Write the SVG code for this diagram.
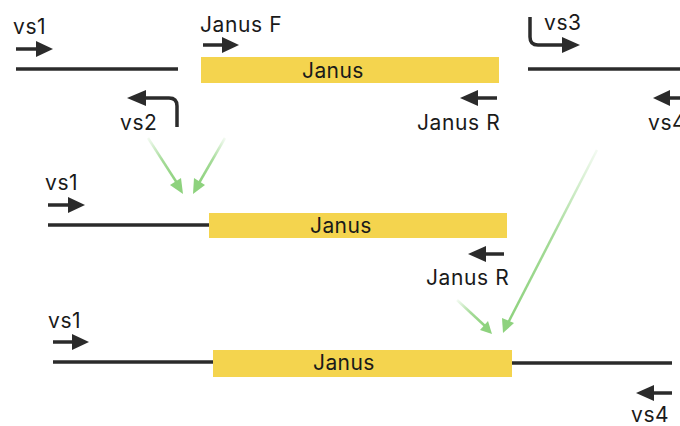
<svg xmlns="http://www.w3.org/2000/svg" width="680" height="426" viewBox="0 0 680 426">
  <style>
    text { font-family: Inter, Roboto, "Liberation Sans", sans-serif; font-size: 21px; letter-spacing: 0.6px; fill: #1a1a1a; }
    .label-bar { font-size: 21px; letter-spacing: 0.4px; }
    .dna { stroke: #2b2b2b; stroke-width: 3.5; fill: none; }
    .gene { fill: #f4d44e; }
    .primer { stroke: #2b2b2b; stroke-width: 3.5; fill: none; }
    .head { fill: #2b2b2b; }
    .flow { stroke-width: 2.5; fill: none; }
    .flowhead { fill: #8ed27e; }
  </style>
  <defs>
    <linearGradient id="fadeL" gradientUnits="objectBoundingBox" x1="0" y1="0" x2="1" y2="1">
      <stop offset="0" stop-color="#8ed27e" stop-opacity="0.1"/>
      <stop offset="0.5" stop-color="#8ed27e" stop-opacity="0.8"/>
      <stop offset="1" stop-color="#8ed27e"/>
    </linearGradient>
    <linearGradient id="fadeR" gradientUnits="objectBoundingBox" x1="1" y1="0" x2="0" y2="1">
      <stop offset="0" stop-color="#8ed27e" stop-opacity="0.1"/>
      <stop offset="0.5" stop-color="#8ed27e" stop-opacity="0.8"/>
      <stop offset="1" stop-color="#8ed27e"/>
    </linearGradient>
  </defs>

  <!-- Row 1: original locus -->
  <g id="row1">
    <line class="dna" x1="16" y1="69" x2="178" y2="69"/>
    <rect class="gene" x="201" y="57" width="298" height="26"/>
    <text class="label-bar" x="302" y="78">Janus</text>
    <line class="dna" x1="528" y1="69" x2="680" y2="69"/>
  </g>
  <g id="vs1-top">
    <text x="13" y="34">vs1</text>
    <line class="primer" x1="16" y1="49" x2="38" y2="49"/>
    <polygon class="head" points="36,41 53,49 36,57"/>
  </g>
  <g id="janusF">
    <text x="200" y="32">Janus F</text>
    <line class="primer" x1="203" y1="45" x2="224" y2="45"/>
    <polygon class="head" points="222,37 239,45 222,53"/>
  </g>
  <g id="vs2">
    <path class="primer" d="M177,127 V106 Q177,98 169,98 H144"/>
    <polygon class="head" points="146,90 127,98 146,106"/>
    <text x="120" y="130">vs2</text>
  </g>
  <g id="janusR-top">
    <line class="primer" x1="497" y1="98" x2="476" y2="98"/>
    <polygon class="head" points="478,90 460,98 478,106"/>
    <text x="417" y="130">Janus R</text>
  </g>
  <g id="vs3">
    <path class="primer" d="M530,17 V37 Q530,45 538,45 H564"/>
    <polygon class="head" points="562,37 580,45 562,53"/>
    <text x="544" y="30">vs3</text>
  </g>
  <g id="vs4-top">
    <line class="primer" x1="682" y1="98" x2="668" y2="98"/>
    <polygon class="head" points="670,90 653,98 670,106"/>
    <text x="648" y="130">vs4</text>
  </g>

  <!-- Row 2: left junction product -->
  <g id="row2">
    <line class="dna" x1="48" y1="225" x2="209" y2="225"/>
    <rect class="gene" x="209" y="213" width="298" height="25"/>
    <text class="label-bar" x="310" y="233">Janus</text>
  </g>
  <g id="vs1-mid">
    <text x="45" y="190">vs1</text>
    <line class="primer" x1="48" y1="205" x2="70" y2="205"/>
    <polygon class="head" points="68,197 85,205 68,213"/>
  </g>
  <g id="janusR-mid">
    <line class="primer" x1="504" y1="254" x2="484" y2="254"/>
    <polygon class="head" points="486,246 468,254 486,262"/>
    <text x="426" y="285">Janus R</text>
  </g>

  <!-- Row 3: full product -->
  <g id="row3">
    <line class="dna" x1="53" y1="362" x2="213" y2="362"/>
    <rect class="gene" x="213" y="350" width="299" height="27"/>
    <text class="label-bar" x="313" y="370">Janus</text>
    <line class="dna" x1="512" y1="363" x2="672" y2="363"/>
  </g>
  <g id="vs1-bottom">
    <text x="48" y="328">vs1</text>
    <line class="primer" x1="53" y1="342" x2="74" y2="342"/>
    <polygon class="head" points="72,334 89,342 72,350"/>
  </g>
  <g id="vs4-bottom">
    <line class="primer" x1="672" y1="393" x2="652" y2="393"/>
    <polygon class="head" points="654,385 636,393 654,401"/>
    <text x="631" y="422">vs4</text>
  </g>

  <!-- Connectors -->
  <g id="connectors">
    <line class="flow" stroke="url(#fadeL)" x1="148" y1="138" x2="177" y2="183"/>
    <polygon class="flowhead" points="170,185 183,194 181,178"/>
    <line class="flow" stroke="url(#fadeR)" x1="225" y1="138" x2="199" y2="183"/>
    <polygon class="flowhead" points="194,178 193,194 205,185"/>
    <line class="flow" stroke="url(#fadeR)" x1="597" y1="150" x2="508" y2="323"/>
    <polygon class="flowhead" points="502,318 503,333 514,323"/>
    <line class="flow" stroke="url(#fadeL)" x1="457" y1="300" x2="485" y2="326"/>
    <polygon class="flowhead" points="480,330 492,334 488,321"/>
  </g>
</svg>
